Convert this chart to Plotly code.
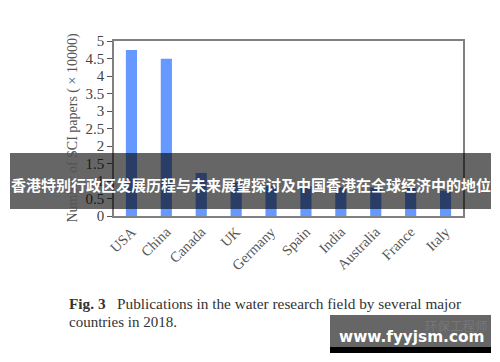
import plotly.graph_objects as go

countries = ["USA", "China", "Canada", "UK", "Germany", "Spain", "India", "Australia", "France", "Italy"]
papers = [4.74, 4.49, 1.23, 0.96, 0.86, 0.85, 0.82, 0.81, 0.80, 0.72]
y_ticks = [0, 0.5, 1, 1.5, 2, 2.5, 3, 3.5, 4, 4.5, 5]
y_labels = ["0", "0.5", "1", "1.5", "2", "2.5", "3", "3.5", "4", "4.5", "5"]
banner = "香港特别行政区发展历程与未来展望探讨及中国香港在全球经济中的地位"
serif = "Liberation Serif"

fig = go.Figure(go.Bar(x=countries, y=papers, marker=dict(color="#6699FF", line=dict(width=0)), width=0.32))
fig.update_layout(
    width=492, height=354, autosize=False, showlegend=False,
    paper_bgcolor="white", plot_bgcolor="white",
    margin=dict(l=106, r=37, t=33, b=146),
    font=dict(family=serif, color="#444444"),
)
fig.update_xaxes(
    range=[-0.5, 9.5], tickangle=-45, ticks="", showgrid=False,
    tickfont=dict(size=14.5, family=serif, color="#555555"),
    showline=True, linecolor="#808080", linewidth=1.5, mirror=True,
)
fig.update_yaxes(
    range=[0, 5], tickvals=y_ticks, ticktext=y_labels, ticks="outside", ticklen=5, tickcolor="#555555",
    tickfont=dict(size=15, family=serif, color="#444444"), showgrid=False, zeroline=False,
    showline=True, linecolor="#808080", linewidth=1.5, mirror=True,
)

# Plot area in window pixels: overlays are placed in these coordinates
pl, pt, pw, ph = 114, 41, 349, 175
def ax(x): return (x - pl) / pw
def ay(y): return 1 - (y - pt) / ph

def rect(x0, y0, x1, y1, color):
    fig.add_shape(type="rect", xref="paper", yref="paper", x0=ax(x0), x1=ax(x1), y0=ay(y1), y1=ay(y0),
                  fillcolor=color, line=dict(width=0), layer="above")

def note(x, y, text, size, color, family, anchor="left", angle=0):
    fig.add_annotation(xref="paper", yref="paper", x=ax(x), y=ay(y), text=text, showarrow=False,
                       xanchor=anchor, yanchor="middle", textangle=angle,
                       font=dict(size=size, color=color, family=family))

note(72, 128.5, "Number of SCI papers ( × 10000)", 14, "#555555", serif, anchor="center", angle=-90)
note(66.5, 303, "<b>Fig. 3</b>   Publications in the water research field by several major", 15.3, "#333333", serif)
note(66.5, 322, "countries in 2018.", 15, "#333333", serif)

rect(10, 153, 491, 209, "rgba(0,0,0,0.6)")
note(250.5, 184, "<b>" + banner + "</b>", 15, "white", "Noto Sans CJK SC", anchor="center")

rect(330, 315, 491, 347, "#666666")
rect(330, 347, 491, 353, "#000000")
note(423, 325, "环保工程师", 12.5, "#777777", "Noto Sans CJK SC")
note(337, 337, "<b>www.fyyjsm.com</b>", 15.3, "white", "DejaVu Sans")

fig.write_html("out.html")
